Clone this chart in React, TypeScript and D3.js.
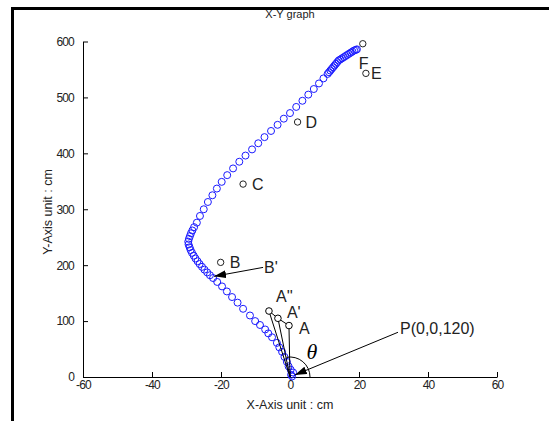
import React, { useEffect, useRef } from "react"
import * as d3 from "d3"

// trail of the tracked point (cm)
const lowerLeg: [number, number][] = [
    [0.6, 1], [0.3, 4], [0.9, 8], [0.2, 13], [-0.4, 19], [-0.9, 27], [-1.6, 36],
    [-2.3, 45], [-3.1, 53], [-3.8, 61], [-5.2, 71], [-6.3, 78], [-7.2, 85],
    [-8.7, 93], [-10.1, 100], [-11.6, 110], [-13.6, 122], [-15.2, 133],
    [-16.8, 143], [-18.3, 153], [-19.7, 162], [-21.1, 170], [-22.3, 177]
]
const turn: [number, number][] = [
    [-23.2, 182], [-24.0, 187], [-24.8, 192], [-25.5, 197], [-26.2, 202],
    [-26.8, 207], [-27.4, 212], [-27.9, 217], [-28.4, 222], [-28.8, 227],
    [-29.1, 232], [-29.4, 237], [-29.5, 242], [-29.3, 247], [-29.0, 252],
    [-28.7, 257], [-28.3, 262], [-27.8, 268]
]
const upperLeg: [number, number][] = [
    [-27.0, 276], [-26.1, 288], [-25.0, 300], [-23.8, 313], [-22.5, 325],
    [-21.2, 337], [-19.8, 349], [-18.2, 361], [-16.5, 373], [-14.7, 385],
    [-12.9, 396], [-11.0, 407], [-9.2, 418], [-7.4, 429], [-5.5, 440],
    [-3.6, 451], [-1.8, 462], [0.0, 472], [1.8, 483], [3.6, 494], [5.3, 505],
    [6.9, 515], [8.4, 525], [9.7, 534], [10.9, 542]
]
const topCluster: [number, number][] = [
    [11.3, 545], [11.7, 548], [12.1, 551], [12.5, 554], [12.9, 557],
    [13.3, 560], [13.7, 563], [14.1, 566], [14.6, 568], [15.1, 570],
    [15.6, 572], [16.1, 574], [16.6, 576], [17.1, 578], [17.6, 580],
    [18.1, 582], [18.6, 584], [19.1, 585], [19.4, 586]
]

// labelled reference points
const refNames = ['B', 'C', 'D', 'E', 'F']
const refX = [-20.1, -13.6, 2.2, 22.0, 21.1]
const refY = [205, 345, 456, 543, 596]

// arm positions A, A', A''
const armNames = ['A', "A'", "A''"]
const armX = [-0.3, -3.5, -6.1]
const armY = [92, 105, 118]

const xTicks = [-60, -40, -20, 0, 20, 40, 60]
const yTicks = [0, 100, 200, 300, 400, 500, 600]

const App = () => {
    const ref = useRef<SVGGElement>(null)

    useEffect(() => {
        const g = d3.select(ref.current)
        g.selectAll('*').remove()

        const x = d3.scaleLinear().domain([-60, 60]).range([83, 497])
        const y = d3.scaleLinear().domain([0, 600]).range([377, 41.5])

        const tickFont = "'Liberation Sans', Arial, sans-serif"
        const plain = (d: any) => String(d)   // keep ascii hyphen for negatives

        const yAxisG = g.append('g')
            .attr('transform', `translate(${x(-60)},0)`)
            .call(d3.axisLeft(y).tickValues(yTicks).tickFormat(plain)
                .tickSizeInner(-5).tickSizeOuter(0).tickPadding(9))
        const xAxisG = g.append('g')
            .attr('transform', `translate(0,${y(0)})`)
            .call(d3.axisBottom(x).tickValues(xTicks).tickFormat(plain)
                .tickSizeInner(-5).tickSizeOuter(0).tickPadding(3))

        for (const ax of [xAxisG, yAxisG]) {
            ax.selectAll('.domain').attr('stroke', '#000')
            ax.selectAll('line').attr('stroke', '#000')
            ax.selectAll('text')
                .attr('fill', '#222')
                .style('font-family', tickFont)
                .style('font-size', '12px')
                .style('letter-spacing', '-0.8px')
        }

        // titles
        g.append('text')
            .attr('x', 290).attr('y', 18)
            .attr('text-anchor', 'middle')
            .style('font-family', tickFont).style('font-size', '11px')
            .attr('fill', '#222')
            .text('X-Y graph')
        g.append('text')
            .attr('x', 290).attr('y', 409)
            .attr('text-anchor', 'middle')
            .style('font-family', tickFont).style('font-size', '12.5px')
            .attr('fill', '#222')
            .text('X-Axis unit : cm')
        g.append('text')
            .attr('transform', 'translate(52,212) rotate(-90)')
            .attr('text-anchor', 'middle')
            .style('font-family', tickFont).style('font-size', '12.5px')
            .attr('fill', '#222')
            .text('Y-Axis unit : cm')

        // trail markers
        const trail = [...lowerLeg, ...turn, ...upperLeg, ...topCluster]
        g.append('g')
            .selectAll('circle')
            .data(trail)
            .enter().append('circle')
                .attr('cx', d => x(d[0]))
                .attr('cy', d => y(d[1]))
                .attr('r', 3.5)
                .attr('fill', 'none')
                .attr('stroke', '#1a1aff')
                .attr('stroke-width', 1)

        // arrow head marker
        const defs = g.append('defs')
        defs.append('marker')
            .attr('id', 'head')
            .attr('markerUnits', 'userSpaceOnUse')
            .attr('viewBox', '0 0 12 8')
            .attr('refX', 12).attr('refY', 4)
            .attr('markerWidth', 12).attr('markerHeight', 8)
            .attr('orient', 'auto')
            .append('path')
                .attr('d', 'M0,0 L12,4 L0,8 Z')
                .attr('fill', '#000')

        const labelFont = "'Liberation Sans', Arial, sans-serif"
        const refOffsets: Record<string, [number, number]> = {
            B: [9, 6], C: [9, 6], D: [8, 6], E: [5, 6], F: [-4, 25]
        }
        refNames.forEach((n, i) => {
            const cx = x(refX[i]), cy = y(refY[i])
            g.append('circle')
                .attr('cx', cx).attr('cy', cy).attr('r', 3.2)
                .attr('fill', 'none').attr('stroke', '#222').attr('stroke-width', 1)
            g.append('text')
                .attr('x', cx + refOffsets[n][0]).attr('y', cy + refOffsets[n][1])
                .style('font-family', labelFont).style('font-size', '16px')
                .attr('fill', '#222')
                .text(n)
        })

        // arm lines from origin
        armNames.forEach((n, i) => {
            g.append('line')
                .attr('x1', x(0)).attr('y1', y(0))
                .attr('x2', x(armX[i])).attr('y2', y(armY[i]))
                .attr('stroke', '#000').attr('stroke-width', 1)
        })
        g.append('path')
            .attr('d', d3.line()(armX.map((v, i) => [x(v), y(armY[i])] as [number, number])))
            .attr('fill', 'none').attr('stroke', '#000').attr('stroke-width', 1)
        const armOffsets: Record<string, [number, number]> = {
            'A': [10, 8], "A'": [9, 0], "A''": [7, -9]
        }
        armNames.forEach((n, i) => {
            const cx = x(armX[i]), cy = y(armY[i])
            g.append('circle')
                .attr('cx', cx).attr('cy', cy).attr('r', 3.3)
                .attr('fill', '#fff').attr('stroke', '#000').attr('stroke-width', 1)
            g.append('text')
                .attr('x', cx + armOffsets[n][0]).attr('y', cy + armOffsets[n][1])
                .style('font-family', labelFont).style('font-size', '16px')
                .attr('fill', '#222')
                .text(n)
        })

        // theta arc
        const p = d3.path()
        p.arc(x(0), y(0), 20, 0, -100 * Math.PI / 180, true)
        g.append('path')
            .attr('d', p.toString())
            .attr('fill', 'none').attr('stroke', '#000').attr('stroke-width', 1)
        g.append('text')
            .attr('x', x(0) + 22).attr('y', y(0) - 18)
            .attr('text-anchor', 'middle')
            .style('font-family', "'Liberation Serif', 'Times New Roman', serif")
            .style('font-style', 'italic')
            .style('font-size', '22px')
            .attr('fill', '#000')
            .text('θ')

        // B' arrow
        g.append('line')
            .attr('x1', x(-7.8)).attr('y1', y(196))
            .attr('x2', x(-22)).attr('y2', y(180))
            .attr('stroke', '#000').attr('stroke-width', 1)
            .attr('marker-end', 'url(#head)')
        g.append('text')
            .attr('x', x(-7.8) + 1).attr('y', y(196) + 6)
            .style('font-family', labelFont).style('font-size', '16px')
            .attr('fill', '#222')
            .text("B'")

        // P arrow
        g.append('line')
            .attr('x1', x(31.3)).attr('y1', y(80))
            .attr('x2', x(1.4)).attr('y2', y(3.6))
            .attr('stroke', '#000').attr('stroke-width', 1)
            .attr('marker-end', 'url(#head)')
        g.append('text')
            .attr('x', x(31.3) + 2).attr('y', y(80) + 2)
            .style('font-family', labelFont).style('font-size', '16px')
            .attr('fill', '#222')
            .text('P(0,0,120)')
    }, [])

    return (
        <div>
            <svg width={549} height={421} style={{ position: 'absolute', left: 0, top: 0, background: '#fff' }}>
                <path d="M12.5,421 L12.5,8.5 L549,8.5" fill="none" stroke="#000" strokeWidth={3} />
                <g ref={ref} />
            </svg>
        </div>
    )
}

export default App
